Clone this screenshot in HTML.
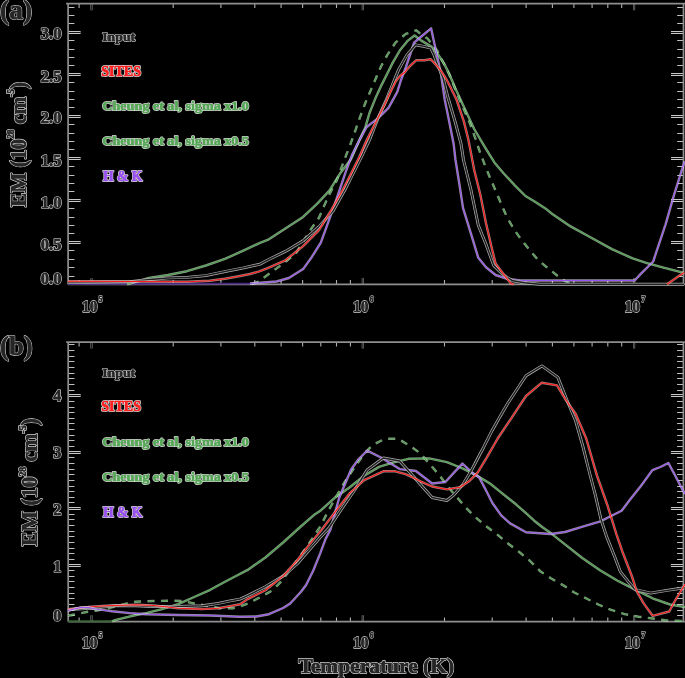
<!DOCTYPE html>
<html><head><meta charset="utf-8"><title>EM plot</title><style>
html,body{margin:0;padding:0;background:#000;width:685px;height:678px;overflow:hidden}
svg{display:block;will-change:transform}
text{font-family:"Liberation Serif",serif;font-weight:bold}
</style></head><body>
<svg width="685" height="678" viewBox="0 0 685 678">
<g><path d="M79.1 3.7v4.3M79.1 284.4v-4.3" stroke="#b0b0b0" stroke-width="1.1"/><path d="M91.5 3.7v6.5M91.5 284.4v-6.5" stroke="#777" stroke-width="2.2"/><path d="M91.5 3.7v6.5M91.5 284.4v-6.5" stroke="#222" stroke-width="1"/><path d="M173.2 3.7v4.3M173.2 284.4v-4.3" stroke="#b0b0b0" stroke-width="1.1"/><path d="M220.9 3.7v4.3M220.9 284.4v-4.3" stroke="#b0b0b0" stroke-width="1.1"/><path d="M254.8 3.7v4.3M254.8 284.4v-4.3" stroke="#b0b0b0" stroke-width="1.1"/><path d="M281.1 3.7v4.3M281.1 284.4v-4.3" stroke="#b0b0b0" stroke-width="1.1"/><path d="M302.6 3.7v4.3M302.6 284.4v-4.3" stroke="#b0b0b0" stroke-width="1.1"/><path d="M320.8 3.7v4.3M320.8 284.4v-4.3" stroke="#b0b0b0" stroke-width="1.1"/><path d="M336.5 3.7v4.3M336.5 284.4v-4.3" stroke="#b0b0b0" stroke-width="1.1"/><path d="M350.4 3.7v4.3M350.4 284.4v-4.3" stroke="#b0b0b0" stroke-width="1.1"/><path d="M362.8 3.7v6.5M362.8 284.4v-6.5" stroke="#777" stroke-width="2.2"/><path d="M362.8 3.7v6.5M362.8 284.4v-6.5" stroke="#222" stroke-width="1"/><path d="M444.5 3.7v4.3M444.5 284.4v-4.3" stroke="#b0b0b0" stroke-width="1.1"/><path d="M492.2 3.7v4.3M492.2 284.4v-4.3" stroke="#b0b0b0" stroke-width="1.1"/><path d="M526.1 3.7v4.3M526.1 284.4v-4.3" stroke="#b0b0b0" stroke-width="1.1"/><path d="M552.4 3.7v4.3M552.4 284.4v-4.3" stroke="#b0b0b0" stroke-width="1.1"/><path d="M573.9 3.7v4.3M573.9 284.4v-4.3" stroke="#b0b0b0" stroke-width="1.1"/><path d="M592.1 3.7v4.3M592.1 284.4v-4.3" stroke="#b0b0b0" stroke-width="1.1"/><path d="M607.8 3.7v4.3M607.8 284.4v-4.3" stroke="#b0b0b0" stroke-width="1.1"/><path d="M621.7 3.7v4.3M621.7 284.4v-4.3" stroke="#b0b0b0" stroke-width="1.1"/><path d="M634.1 3.7v6.5M634.1 284.4v-6.5" stroke="#777" stroke-width="2.2"/><path d="M634.1 3.7v6.5M634.1 284.4v-6.5" stroke="#222" stroke-width="1"/><path d="M68.1 276.5h6.3M683.5 276.5h-6.3" stroke="#c0c0c0" stroke-width="1.2"/><path d="M68.1 267.5h6.3M683.5 267.5h-6.3" stroke="#c0c0c0" stroke-width="1.2"/><path d="M68.1 259.5h6.3M683.5 259.5h-6.3" stroke="#c0c0c0" stroke-width="1.2"/><path d="M68.1 250.5h6.3M683.5 250.5h-6.3" stroke="#c0c0c0" stroke-width="1.2"/><path d="M68.1 242.5h12.5M683.5 242.5h-12.5" stroke="#c8c8c8" stroke-width="3"/><path d="M68.1 242.5h12.5M683.5 242.5h-12.5" stroke="#111" stroke-width="1"/><path d="M68.1 233.5h6.3M683.5 233.5h-6.3" stroke="#c0c0c0" stroke-width="1.2"/><path d="M68.1 225.5h6.3M683.5 225.5h-6.3" stroke="#c0c0c0" stroke-width="1.2"/><path d="M68.1 217.5h6.3M683.5 217.5h-6.3" stroke="#c0c0c0" stroke-width="1.2"/><path d="M68.1 208.5h6.3M683.5 208.5h-6.3" stroke="#c0c0c0" stroke-width="1.2"/><path d="M68.1 200.5h12.5M683.5 200.5h-12.5" stroke="#c8c8c8" stroke-width="3"/><path d="M68.1 200.5h12.5M683.5 200.5h-12.5" stroke="#111" stroke-width="1"/><path d="M68.1 191.5h6.3M683.5 191.5h-6.3" stroke="#c0c0c0" stroke-width="1.2"/><path d="M68.1 183.5h6.3M683.5 183.5h-6.3" stroke="#c0c0c0" stroke-width="1.2"/><path d="M68.1 175.5h6.3M683.5 175.5h-6.3" stroke="#c0c0c0" stroke-width="1.2"/><path d="M68.1 166.5h6.3M683.5 166.5h-6.3" stroke="#c0c0c0" stroke-width="1.2"/><path d="M68.1 158.5h12.5M683.5 158.5h-12.5" stroke="#c8c8c8" stroke-width="3"/><path d="M68.1 158.5h12.5M683.5 158.5h-12.5" stroke="#111" stroke-width="1"/><path d="M68.1 149.5h6.3M683.5 149.5h-6.3" stroke="#c0c0c0" stroke-width="1.2"/><path d="M68.1 141.5h6.3M683.5 141.5h-6.3" stroke="#c0c0c0" stroke-width="1.2"/><path d="M68.1 133.5h6.3M683.5 133.5h-6.3" stroke="#c0c0c0" stroke-width="1.2"/><path d="M68.1 124.5h6.3M683.5 124.5h-6.3" stroke="#c0c0c0" stroke-width="1.2"/><path d="M68.1 116.5h12.5M683.5 116.5h-12.5" stroke="#c8c8c8" stroke-width="3"/><path d="M68.1 116.5h12.5M683.5 116.5h-12.5" stroke="#111" stroke-width="1"/><path d="M68.1 107.5h6.3M683.5 107.5h-6.3" stroke="#c0c0c0" stroke-width="1.2"/><path d="M68.1 99.5h6.3M683.5 99.5h-6.3" stroke="#c0c0c0" stroke-width="1.2"/><path d="M68.1 91.5h6.3M683.5 91.5h-6.3" stroke="#c0c0c0" stroke-width="1.2"/><path d="M68.1 82.5h6.3M683.5 82.5h-6.3" stroke="#c0c0c0" stroke-width="1.2"/><path d="M68.1 74.5h12.5M683.5 74.5h-12.5" stroke="#c8c8c8" stroke-width="3"/><path d="M68.1 74.5h12.5M683.5 74.5h-12.5" stroke="#111" stroke-width="1"/><path d="M68.1 65.5h6.3M683.5 65.5h-6.3" stroke="#c0c0c0" stroke-width="1.2"/><path d="M68.1 57.5h6.3M683.5 57.5h-6.3" stroke="#c0c0c0" stroke-width="1.2"/><path d="M68.1 49.5h6.3M683.5 49.5h-6.3" stroke="#c0c0c0" stroke-width="1.2"/><path d="M68.1 40.5h6.3M683.5 40.5h-6.3" stroke="#c0c0c0" stroke-width="1.2"/><path d="M68.1 32.5h12.5M683.5 32.5h-12.5" stroke="#c8c8c8" stroke-width="3"/><path d="M68.1 32.5h12.5M683.5 32.5h-12.5" stroke="#111" stroke-width="1"/><path d="M68.1 23.5h6.3M683.5 23.5h-6.3" stroke="#c0c0c0" stroke-width="1.2"/><path d="M68.1 15.5h6.3M683.5 15.5h-6.3" stroke="#c0c0c0" stroke-width="1.2"/><path d="M68.1 7.5h6.3M683.5 7.5h-6.3" stroke="#c0c0c0" stroke-width="1.2"/><path d="M66.1 3.7H685.0M68.1 3.7V284.4M683.5 3.7V284.4M68.1 284.4H685.0" fill="none" stroke="#8e8e8e" stroke-width="1.7"/><path d="M79.1 342.1v4.3M79.1 621.7v-4.3" stroke="#b0b0b0" stroke-width="1.1"/><path d="M91.5 342.1v6.5M91.5 621.7v-6.5" stroke="#777" stroke-width="2.2"/><path d="M91.5 342.1v6.5M91.5 621.7v-6.5" stroke="#222" stroke-width="1"/><path d="M173.2 342.1v4.3M173.2 621.7v-4.3" stroke="#b0b0b0" stroke-width="1.1"/><path d="M220.9 342.1v4.3M220.9 621.7v-4.3" stroke="#b0b0b0" stroke-width="1.1"/><path d="M254.8 342.1v4.3M254.8 621.7v-4.3" stroke="#b0b0b0" stroke-width="1.1"/><path d="M281.1 342.1v4.3M281.1 621.7v-4.3" stroke="#b0b0b0" stroke-width="1.1"/><path d="M302.6 342.1v4.3M302.6 621.7v-4.3" stroke="#b0b0b0" stroke-width="1.1"/><path d="M320.8 342.1v4.3M320.8 621.7v-4.3" stroke="#b0b0b0" stroke-width="1.1"/><path d="M336.5 342.1v4.3M336.5 621.7v-4.3" stroke="#b0b0b0" stroke-width="1.1"/><path d="M350.4 342.1v4.3M350.4 621.7v-4.3" stroke="#b0b0b0" stroke-width="1.1"/><path d="M362.8 342.1v6.5M362.8 621.7v-6.5" stroke="#777" stroke-width="2.2"/><path d="M362.8 342.1v6.5M362.8 621.7v-6.5" stroke="#222" stroke-width="1"/><path d="M444.5 342.1v4.3M444.5 621.7v-4.3" stroke="#b0b0b0" stroke-width="1.1"/><path d="M492.2 342.1v4.3M492.2 621.7v-4.3" stroke="#b0b0b0" stroke-width="1.1"/><path d="M526.1 342.1v4.3M526.1 621.7v-4.3" stroke="#b0b0b0" stroke-width="1.1"/><path d="M552.4 342.1v4.3M552.4 621.7v-4.3" stroke="#b0b0b0" stroke-width="1.1"/><path d="M573.9 342.1v4.3M573.9 621.7v-4.3" stroke="#b0b0b0" stroke-width="1.1"/><path d="M592.1 342.1v4.3M592.1 621.7v-4.3" stroke="#b0b0b0" stroke-width="1.1"/><path d="M607.8 342.1v4.3M607.8 621.7v-4.3" stroke="#b0b0b0" stroke-width="1.1"/><path d="M621.7 342.1v4.3M621.7 621.7v-4.3" stroke="#b0b0b0" stroke-width="1.1"/><path d="M634.1 342.1v6.5M634.1 621.7v-6.5" stroke="#777" stroke-width="2.2"/><path d="M634.1 342.1v6.5M634.1 621.7v-6.5" stroke="#222" stroke-width="1"/><path d="M68.2 615.5h6.3M683.4 615.5h-6.3" stroke="#c0c0c0" stroke-width="1.2"/><path d="M68.2 610.5h6.3M683.4 610.5h-6.3" stroke="#c0c0c0" stroke-width="1.2"/><path d="M68.2 604.5h6.3M683.4 604.5h-6.3" stroke="#c0c0c0" stroke-width="1.2"/><path d="M68.2 598.5h6.3M683.4 598.5h-6.3" stroke="#c0c0c0" stroke-width="1.2"/><path d="M68.2 593.5h6.3M683.4 593.5h-6.3" stroke="#c0c0c0" stroke-width="1.2"/><path d="M68.2 587.5h6.3M683.4 587.5h-6.3" stroke="#c0c0c0" stroke-width="1.2"/><path d="M68.2 581.5h6.3M683.4 581.5h-6.3" stroke="#c0c0c0" stroke-width="1.2"/><path d="M68.2 576.5h6.3M683.4 576.5h-6.3" stroke="#c0c0c0" stroke-width="1.2"/><path d="M68.2 570.5h6.3M683.4 570.5h-6.3" stroke="#c0c0c0" stroke-width="1.2"/><path d="M68.2 565.5h12.5M683.4 565.5h-12.5" stroke="#c8c8c8" stroke-width="3"/><path d="M68.2 565.5h12.5M683.4 565.5h-12.5" stroke="#111" stroke-width="1"/><path d="M68.2 559.5h6.3M683.4 559.5h-6.3" stroke="#c0c0c0" stroke-width="1.2"/><path d="M68.2 553.5h6.3M683.4 553.5h-6.3" stroke="#c0c0c0" stroke-width="1.2"/><path d="M68.2 548.5h6.3M683.4 548.5h-6.3" stroke="#c0c0c0" stroke-width="1.2"/><path d="M68.2 542.5h6.3M683.4 542.5h-6.3" stroke="#c0c0c0" stroke-width="1.2"/><path d="M68.2 536.5h6.3M683.4 536.5h-6.3" stroke="#c0c0c0" stroke-width="1.2"/><path d="M68.2 531.5h6.3M683.4 531.5h-6.3" stroke="#c0c0c0" stroke-width="1.2"/><path d="M68.2 525.5h6.3M683.4 525.5h-6.3" stroke="#c0c0c0" stroke-width="1.2"/><path d="M68.2 519.5h6.3M683.4 519.5h-6.3" stroke="#c0c0c0" stroke-width="1.2"/><path d="M68.2 514.5h6.3M683.4 514.5h-6.3" stroke="#c0c0c0" stroke-width="1.2"/><path d="M68.2 508.5h12.5M683.4 508.5h-12.5" stroke="#c8c8c8" stroke-width="3"/><path d="M68.2 508.5h12.5M683.4 508.5h-12.5" stroke="#111" stroke-width="1"/><path d="M68.2 502.5h6.3M683.4 502.5h-6.3" stroke="#c0c0c0" stroke-width="1.2"/><path d="M68.2 497.5h6.3M683.4 497.5h-6.3" stroke="#c0c0c0" stroke-width="1.2"/><path d="M68.2 491.5h6.3M683.4 491.5h-6.3" stroke="#c0c0c0" stroke-width="1.2"/><path d="M68.2 486.5h6.3M683.4 486.5h-6.3" stroke="#c0c0c0" stroke-width="1.2"/><path d="M68.2 480.5h6.3M683.4 480.5h-6.3" stroke="#c0c0c0" stroke-width="1.2"/><path d="M68.2 474.5h6.3M683.4 474.5h-6.3" stroke="#c0c0c0" stroke-width="1.2"/><path d="M68.2 469.5h6.3M683.4 469.5h-6.3" stroke="#c0c0c0" stroke-width="1.2"/><path d="M68.2 463.5h6.3M683.4 463.5h-6.3" stroke="#c0c0c0" stroke-width="1.2"/><path d="M68.2 457.5h6.3M683.4 457.5h-6.3" stroke="#c0c0c0" stroke-width="1.2"/><path d="M68.2 452.5h12.5M683.4 452.5h-12.5" stroke="#c8c8c8" stroke-width="3"/><path d="M68.2 452.5h12.5M683.4 452.5h-12.5" stroke="#111" stroke-width="1"/><path d="M68.2 446.5h6.3M683.4 446.5h-6.3" stroke="#c0c0c0" stroke-width="1.2"/><path d="M68.2 440.5h6.3M683.4 440.5h-6.3" stroke="#c0c0c0" stroke-width="1.2"/><path d="M68.2 435.5h6.3M683.4 435.5h-6.3" stroke="#c0c0c0" stroke-width="1.2"/><path d="M68.2 429.5h6.3M683.4 429.5h-6.3" stroke="#c0c0c0" stroke-width="1.2"/><path d="M68.2 423.5h6.3M683.4 423.5h-6.3" stroke="#c0c0c0" stroke-width="1.2"/><path d="M68.2 418.5h6.3M683.4 418.5h-6.3" stroke="#c0c0c0" stroke-width="1.2"/><path d="M68.2 412.5h6.3M683.4 412.5h-6.3" stroke="#c0c0c0" stroke-width="1.2"/><path d="M68.2 407.5h6.3M683.4 407.5h-6.3" stroke="#c0c0c0" stroke-width="1.2"/><path d="M68.2 401.5h6.3M683.4 401.5h-6.3" stroke="#c0c0c0" stroke-width="1.2"/><path d="M68.2 395.5h12.5M683.4 395.5h-12.5" stroke="#c8c8c8" stroke-width="3"/><path d="M68.2 395.5h12.5M683.4 395.5h-12.5" stroke="#111" stroke-width="1"/><path d="M68.2 390.5h6.3M683.4 390.5h-6.3" stroke="#c0c0c0" stroke-width="1.2"/><path d="M68.2 384.5h6.3M683.4 384.5h-6.3" stroke="#c0c0c0" stroke-width="1.2"/><path d="M68.2 378.5h6.3M683.4 378.5h-6.3" stroke="#c0c0c0" stroke-width="1.2"/><path d="M68.2 373.5h6.3M683.4 373.5h-6.3" stroke="#c0c0c0" stroke-width="1.2"/><path d="M68.2 367.5h6.3M683.4 367.5h-6.3" stroke="#c0c0c0" stroke-width="1.2"/><path d="M68.2 361.5h6.3M683.4 361.5h-6.3" stroke="#c0c0c0" stroke-width="1.2"/><path d="M68.2 356.5h6.3M683.4 356.5h-6.3" stroke="#c0c0c0" stroke-width="1.2"/><path d="M68.2 350.5h6.3M683.4 350.5h-6.3" stroke="#c0c0c0" stroke-width="1.2"/><path d="M68.2 344.5h6.3M683.4 344.5h-6.3" stroke="#c0c0c0" stroke-width="1.2"/><path d="M66.2 342.1H684.9M68.2 342.1V621.7M683.4 342.1V621.7M68.2 621.7H684.9" fill="none" stroke="#8e8e8e" stroke-width="1.7"/></g>
<g><polyline points="68.0,284.0 250.0,283.6" fill="none" stroke="#4a2a80" stroke-width="1.8"/><polyline points="68.0,621.3 113.0,621.3" fill="none" stroke="#3a6a3a" stroke-width="1.8"/><polyline points="127.0,284.3 130.0,283.6 149.0,277.9 168.0,275.0 186.9,271.2 205.9,265.5 224.9,258.9 243.9,250.4 260.0,242.8 267.7,239.9 285.4,228.4 303.1,216.9 317.3,203.6 329.6,190.4 340.6,172.7 351.0,159.2 359.2,140.6 365.4,127.2 369.5,113.0 375.3,98.6 381.5,85.1 386.7,74.8 392.9,62.4 400.1,50.0 407.9,40.6 414.6,35.5 421.3,40.6 431.6,46.8 437.8,54.1 444.0,63.4 449.2,73.7 455.1,87.7 463.9,106.9 474.2,129.0 484.6,146.7 490.0,155.3 494.4,162.4 503.3,173.0 514.8,185.4 525.4,196.0 534.2,201.3 546.6,209.3 551.2,213.2 570.6,226.4 591.3,237.7 611.9,249.1 632.6,258.4 647.0,263.1 663.5,267.7 684.0,272.8" fill="none" stroke="rgba(225,250,225,0.62)" stroke-width="2.40" stroke-linejoin="round"/><polyline points="127.0,284.3 130.0,283.6 149.0,277.9 168.0,275.0 186.9,271.2 205.9,265.5 224.9,258.9 243.9,250.4 260.0,242.8 267.7,239.9 285.4,228.4 303.1,216.9 317.3,203.6 329.6,190.4 340.6,172.7 351.0,159.2 359.2,140.6 365.4,127.2 369.5,113.0 375.3,98.6 381.5,85.1 386.7,74.8 392.9,62.4 400.1,50.0 407.9,40.6 414.6,35.5 421.3,40.6 431.6,46.8 437.8,54.1 444.0,63.4 449.2,73.7 455.1,87.7 463.9,106.9 474.2,129.0 484.6,146.7 490.0,155.3 494.4,162.4 503.3,173.0 514.8,185.4 525.4,196.0 534.2,201.3 546.6,209.3 551.2,213.2 570.6,226.4 591.3,237.7 611.9,249.1 632.6,258.4 647.0,263.1 663.5,267.7 684.0,272.8" fill="none" stroke="#4aa04a" stroke-width="1.05" stroke-linejoin="round"/><polyline points="252.0,284.0 258.8,281.5 273.0,270.9 285.4,262.0 296.0,253.2 310.2,230.2 319.0,217.8 324.3,205.4 329.6,193.9 336.7,180.6 340.8,169.5 345.8,156.1 351.0,142.7 356.1,128.3 360.2,116.6 365.5,102.5 370.8,90.1 376.1,77.7 381.0,66.5 387.2,55.1 395.5,42.7 405.8,33.9 416.1,30.3 421.3,34.5 427.5,38.6 437.3,50.7 442.0,60.3 449.2,74.4 459.5,99.5 469.8,123.1 475.7,139.3 480.1,152.6 484.6,164.4 489.8,177.3 495.6,190.7 501.3,204.1 507.1,217.5 513.8,229.0 520.5,238.6 528.2,248.2 537.8,259.7 549.3,269.3 558.8,276.9 566.0,281.5 572.0,284.3" fill="none" stroke="rgba(225,250,225,0.62)" stroke-width="2.40" stroke-linejoin="round" stroke-dasharray="7 6.5"/><polyline points="252.0,284.0 258.8,281.5 273.0,270.9 285.4,262.0 296.0,253.2 310.2,230.2 319.0,217.8 324.3,205.4 329.6,193.9 336.7,180.6 340.8,169.5 345.8,156.1 351.0,142.7 356.1,128.3 360.2,116.6 365.5,102.5 370.8,90.1 376.1,77.7 381.0,66.5 387.2,55.1 395.5,42.7 405.8,33.9 416.1,30.3 421.3,34.5 427.5,38.6 437.3,50.7 442.0,60.3 449.2,74.4 459.5,99.5 469.8,123.1 475.7,139.3 480.1,152.6 484.6,164.4 489.8,177.3 495.6,190.7 501.3,204.1 507.1,217.5 513.8,229.0 520.5,238.6 528.2,248.2 537.8,259.7 549.3,269.3 558.8,276.9 566.0,281.5 572.0,284.3" fill="none" stroke="#4aa04a" stroke-width="1.05" stroke-linejoin="round" stroke-dasharray="7 6.5"/><polyline points="250.0,283.5 276.5,281.5 288.9,278.0 303.1,269.1 312.0,256.7 320.8,242.6 327.9,223.1 335.0,203.6 339.6,190.0 345.8,171.6 352.0,155.1 359.2,140.6 366.5,127.2 371.6,123.1 377.9,118.4 388.5,107.8 397.3,91.9 401.0,80.0 405.8,67.5 414.1,42.7 421.3,36.5 431.1,28.3 433.7,40.6 437.8,59.2 440.9,73.7 444.7,99.5 449.2,121.6 453.6,143.7 455.5,160.0 459.2,183.0 463.0,207.9 470.7,232.8 478.3,257.8 486.0,267.3 495.6,275.0 507.1,278.8 520.5,280.5 634.6,280.5 640.8,273.9 653.2,261.5 657.3,249.1 665.6,224.3 673.9,195.4 684.5,161.5" fill="none" stroke="rgba(240,230,255,0.62)" stroke-width="2.40" stroke-linejoin="round"/><polyline points="250.0,283.5 276.5,281.5 288.9,278.0 303.1,269.1 312.0,256.7 320.8,242.6 327.9,223.1 335.0,203.6 339.6,190.0 345.8,171.6 352.0,155.1 359.2,140.6 366.5,127.2 371.6,123.1 377.9,118.4 388.5,107.8 397.3,91.9 401.0,80.0 405.8,67.5 414.1,42.7 421.3,36.5 431.1,28.3 433.7,40.6 437.8,59.2 440.9,73.7 444.7,99.5 449.2,121.6 453.6,143.7 455.5,160.0 459.2,183.0 463.0,207.9 470.7,232.8 478.3,257.8 486.0,267.3 495.6,275.0 507.1,278.8 520.5,280.5 634.6,280.5 640.8,273.9 653.2,261.5 657.3,249.1 665.6,224.3 673.9,195.4 684.5,161.5" fill="none" stroke="#9a55f0" stroke-width="1.05" stroke-linejoin="round"/><polyline points="68.0,282.5 130.0,281.7 150.0,279.5 168.0,277.9 186.9,277.4 205.9,275.6 224.9,271.6 243.9,267.8 260.0,264.2 267.7,260.0 285.4,251.4 303.1,240.8 319.0,226.6 333.2,210.7 344.8,190.0 353.0,173.7 361.3,157.2 369.6,139.6 377.9,118.4 386.7,98.9 390.3,90.0 398.6,69.6 406.8,55.1 415.6,44.8 423.4,46.3 430.6,47.9 433.7,54.1 437.8,65.4 443.0,77.8 447.7,96.5 455.1,121.6 461.0,143.7 463.5,160.0 470.7,188.8 478.3,225.2 486.0,244.3 493.7,265.4 503.3,275.0 512.8,280.8 524.3,282.7 540.0,284.3 684.0,284.3" fill="none" stroke="#b0b0b0" stroke-width="2.90" stroke-linejoin="round"/><polyline points="68.0,282.5 130.0,281.7 150.0,279.5 168.0,277.9 186.9,277.4 205.9,275.6 224.9,271.6 243.9,267.8 260.0,264.2 267.7,260.0 285.4,251.4 303.1,240.8 319.0,226.6 333.2,210.7 344.8,190.0 353.0,173.7 361.3,157.2 369.6,139.6 377.9,118.4 386.7,98.9 390.3,90.0 398.6,69.6 406.8,55.1 415.6,44.8 423.4,46.3 430.6,47.9 433.7,54.1 437.8,65.4 443.0,77.8 447.7,96.5 455.1,121.6 461.0,143.7 463.5,160.0 470.7,188.8 478.3,225.2 486.0,244.3 493.7,265.4 503.3,275.0 512.8,280.8 524.3,282.7 540.0,284.3 684.0,284.3" fill="none" stroke="#1e1e1e" stroke-width="1.5" stroke-linejoin="round"/><polyline points="68.0,281.3 130.0,281.5 186.9,281.7 209.7,280.7 224.9,278.8 240.1,276.0 250.0,274.0 260.0,271.2 267.7,268.2 285.4,260.3 303.1,246.1 319.0,230.2 331.4,209.8 342.7,190.0 351.0,173.7 359.2,157.2 366.5,140.6 372.7,128.3 378.4,117.0 384.6,104.8 390.8,91.3 396.0,81.0 400.1,75.8 404.8,72.2 410.0,66.0 416.1,60.3 424.4,60.3 430.6,59.2 434.7,63.4 440.9,70.6 446.1,78.8 449.2,84.7 456.5,99.5 463.9,121.6 468.3,139.3 474.2,170.0 480.3,194.5 486.0,223.3 491.8,248.2 495.6,263.5 501.3,271.2 507.1,278.8 510.9,283.6 514.0,284.3" fill="none" stroke="rgba(255,215,215,0.62)" stroke-width="2.40" stroke-linejoin="round"/><polyline points="68.0,281.3 130.0,281.5 186.9,281.7 209.7,280.7 224.9,278.8 240.1,276.0 250.0,274.0 260.0,271.2 267.7,268.2 285.4,260.3 303.1,246.1 319.0,230.2 331.4,209.8 342.7,190.0 351.0,173.7 359.2,157.2 366.5,140.6 372.7,128.3 378.4,117.0 384.6,104.8 390.8,91.3 396.0,81.0 400.1,75.8 404.8,72.2 410.0,66.0 416.1,60.3 424.4,60.3 430.6,59.2 434.7,63.4 440.9,70.6 446.1,78.8 449.2,84.7 456.5,99.5 463.9,121.6 468.3,139.3 474.2,170.0 480.3,194.5 486.0,223.3 491.8,248.2 495.6,263.5 501.3,271.2 507.1,278.8 510.9,283.6 514.0,284.3" fill="none" stroke="#ff1818" stroke-width="1.1" stroke-linejoin="round"/><polyline points="112.0,621.3 115.0,620.1 127.3,617.1 136.0,615.0 146.1,613.1 162.1,609.1 178.2,604.2 194.2,597.0 210.3,589.8 226.4,581.0 236.0,576.0 247.7,569.9 265.4,557.5 283.1,542.5 300.8,526.5 315.0,514.2 320.0,511.1 334.7,497.8 349.5,487.5 364.2,475.7 379.0,466.9 393.7,462.4 408.5,458.8 429.2,458.4 446.9,462.1 461.6,468.0 476.4,475.4 490.0,483.5 498.8,490.6 507.7,497.7 516.5,504.8 525.4,512.7 534.2,520.7 543.1,527.8 550.8,533.1 565.0,544.4 582.6,558.3 600.0,570.3 617.6,580.8 635.1,589.6 652.6,598.3 670.1,604.5 685.0,607.1" fill="none" stroke="rgba(225,250,225,0.62)" stroke-width="2.40" stroke-linejoin="round"/><polyline points="112.0,621.3 115.0,620.1 127.3,617.1 136.0,615.0 146.1,613.1 162.1,609.1 178.2,604.2 194.2,597.0 210.3,589.8 226.4,581.0 236.0,576.0 247.7,569.9 265.4,557.5 283.1,542.5 300.8,526.5 315.0,514.2 320.0,511.1 334.7,497.8 349.5,487.5 364.2,475.7 379.0,466.9 393.7,462.4 408.5,458.8 429.2,458.4 446.9,462.1 461.6,468.0 476.4,475.4 490.0,483.5 498.8,490.6 507.7,497.7 516.5,504.8 525.4,512.7 534.2,520.7 543.1,527.8 550.8,533.1 565.0,544.4 582.6,558.3 600.0,570.3 617.6,580.8 635.1,589.6 652.6,598.3 670.1,604.5 685.0,607.1" fill="none" stroke="#4aa04a" stroke-width="1.05" stroke-linejoin="round"/><polyline points="68.0,615.5 71.0,615.2 80.9,613.3 86.4,612.0 96.7,610.5 108.9,608.2 125.3,603.8 134.8,601.8 154.1,601.0 170.1,600.7 183.0,601.0 194.2,603.4 207.1,605.8 219.9,608.3 232.8,608.3 240.0,606.6 249.5,602.7 260.1,597.3 272.5,590.3 281.3,581.4 295.0,563.0 306.1,547.8 313.2,537.2 320.3,526.5 327.4,512.6 334.7,499.3 342.1,486.0 353.9,468.3 364.2,453.6 373.1,444.7 384.9,438.8 398.2,438.8 410.0,446.0 420.3,453.3 430.6,465.1 439.5,475.4 448.3,487.2 457.2,497.5 466.0,507.8 474.9,516.7 485.2,525.5 497.7,534.9 508.3,543.7 518.9,551.7 529.6,560.5 540.2,571.2 550.8,578.2 563.2,585.3 573.8,592.2 586.0,598.3 598.3,604.5 610.5,609.7 624.6,614.1 638.6,616.7 652.6,618.5 664.9,620.2 685.0,621.0" fill="none" stroke="rgba(225,250,225,0.62)" stroke-width="2.40" stroke-linejoin="round" stroke-dasharray="7 6.5"/><polyline points="68.0,615.5 71.0,615.2 80.9,613.3 86.4,612.0 96.7,610.5 108.9,608.2 125.3,603.8 134.8,601.8 154.1,601.0 170.1,600.7 183.0,601.0 194.2,603.4 207.1,605.8 219.9,608.3 232.8,608.3 240.0,606.6 249.5,602.7 260.1,597.3 272.5,590.3 281.3,581.4 295.0,563.0 306.1,547.8 313.2,537.2 320.3,526.5 327.4,512.6 334.7,499.3 342.1,486.0 353.9,468.3 364.2,453.6 373.1,444.7 384.9,438.8 398.2,438.8 410.0,446.0 420.3,453.3 430.6,465.1 439.5,475.4 448.3,487.2 457.2,497.5 466.0,507.8 474.9,516.7 485.2,525.5 497.7,534.9 508.3,543.7 518.9,551.7 529.6,560.5 540.2,571.2 550.8,578.2 563.2,585.3 573.8,592.2 586.0,598.3 598.3,604.5 610.5,609.7 624.6,614.1 638.6,616.7 652.6,618.5 664.9,620.2 685.0,621.0" fill="none" stroke="#4aa04a" stroke-width="1.05" stroke-linejoin="round" stroke-dasharray="7 6.5"/><polyline points="68.0,610.5 80.6,607.6 89.0,607.5 96.7,609.3 106.0,610.4 112.0,611.3 130.0,613.1 146.1,614.2 178.2,615.0 210.3,615.5 240.0,616.8 256.5,616.5 268.9,614.2 283.1,608.0 290.2,603.5 300.8,592.0 306.1,585.0 313.2,570.8 320.3,553.1 325.6,538.9 330.3,530.0 339.2,497.8 351.0,469.8 358.3,459.5 367.2,450.6 381.9,458.0 399.6,469.1 410.0,470.2 415.9,471.0 432.1,483.5 445.4,482.0 454.2,472.4 462.4,463.6 471.9,472.4 479.3,477.6 485.2,488.7 492.4,503.0 501.2,515.4 510.1,523.4 526.0,532.2 550.8,534.0 565.0,532.0 582.7,526.7 600.4,521.4 621.6,510.8 630.3,499.3 640.9,486.0 652.4,470.1 660.4,467.0 668.4,463.0 674.6,474.5 682.5,489.6 685.0,494.0" fill="none" stroke="rgba(240,230,255,0.62)" stroke-width="2.40" stroke-linejoin="round"/><polyline points="68.0,610.5 80.6,607.6 89.0,607.5 96.7,609.3 106.0,610.4 112.0,611.3 130.0,613.1 146.1,614.2 178.2,615.0 210.3,615.5 240.0,616.8 256.5,616.5 268.9,614.2 283.1,608.0 290.2,603.5 300.8,592.0 306.1,585.0 313.2,570.8 320.3,553.1 325.6,538.9 330.3,530.0 339.2,497.8 351.0,469.8 358.3,459.5 367.2,450.6 381.9,458.0 399.6,469.1 410.0,470.2 415.9,471.0 432.1,483.5 445.4,482.0 454.2,472.4 462.4,463.6 471.9,472.4 479.3,477.6 485.2,488.7 492.4,503.0 501.2,515.4 510.1,523.4 526.0,532.2 550.8,534.0 565.0,532.0 582.7,526.7 600.4,521.4 621.6,510.8 630.3,499.3 640.9,486.0 652.4,470.1 660.4,467.0 668.4,463.0 674.6,474.5 682.5,489.6 685.0,494.0" fill="none" stroke="#9a55f0" stroke-width="1.05" stroke-linejoin="round"/><polyline points="68.0,609.6 90.0,608.3 115.6,605.8 130.0,605.5 152.9,606.5 178.2,606.5 202.3,605.8 218.3,603.4 230.0,600.9 240.0,599.1 247.7,595.6 265.4,586.7 283.1,576.1 297.3,563.7 309.6,549.6 320.3,537.2 329.0,528.0 342.1,508.2 355.4,489.0 367.2,469.8 383.4,458.0 399.6,461.0 410.0,472.4 420.3,484.2 432.1,497.5 446.9,500.5 454.2,494.6 463.1,484.2 471.9,469.5 479.5,455.0 483.7,447.2 492.0,430.7 501.4,414.2 507.7,403.5 526.0,375.7 541.9,365.9 557.9,377.4 566.7,399.6 575.6,420.8 582.7,445.6 588.8,470.0 595.3,494.9 601.1,519.8 606.8,537.1 614.5,556.3 620.3,571.6 627.9,581.2 635.1,589.6 650.8,593.1 666.6,590.4 685.0,587.8" fill="none" stroke="#b0b0b0" stroke-width="2.90" stroke-linejoin="round"/><polyline points="68.0,609.6 90.0,608.3 115.6,605.8 130.0,605.5 152.9,606.5 178.2,606.5 202.3,605.8 218.3,603.4 230.0,600.9 240.0,599.1 247.7,595.6 265.4,586.7 283.1,576.1 297.3,563.7 309.6,549.6 320.3,537.2 329.0,528.0 342.1,508.2 355.4,489.0 367.2,469.8 383.4,458.0 399.6,461.0 410.0,472.4 420.3,484.2 432.1,497.5 446.9,500.5 454.2,494.6 463.1,484.2 471.9,469.5 479.5,455.0 483.7,447.2 492.0,430.7 501.4,414.2 507.7,403.5 526.0,375.7 541.9,365.9 557.9,377.4 566.7,399.6 575.6,420.8 582.7,445.6 588.8,470.0 595.3,494.9 601.1,519.8 606.8,537.1 614.5,556.3 620.3,571.6 627.9,581.2 635.1,589.6 650.8,593.1 666.6,590.4 685.0,587.8" fill="none" stroke="#1e1e1e" stroke-width="1.5" stroke-linejoin="round"/><polyline points="68.0,609.3 80.0,608.0 91.1,606.8 106.9,605.7 136.0,604.8 154.1,605.5 178.2,608.3 202.3,609.1 218.3,608.3 230.0,606.2 240.0,604.2 247.7,599.1 265.4,590.3 283.1,576.1 297.3,560.2 309.6,544.2 321.5,530.0 334.7,512.6 349.5,493.4 364.2,480.1 383.4,471.3 395.2,471.3 405.5,474.2 410.0,476.1 420.3,481.3 432.1,486.5 446.9,489.4 460.1,487.2 469.0,481.3 477.8,472.4 486.7,457.7 497.7,438.5 511.9,417.3 526.0,396.0 541.9,382.7 557.0,385.4 566.7,401.3 575.6,413.7 586.2,438.5 596.9,475.4 607.5,505.5 616.3,533.8 622.8,552.8 631.6,575.5 636.8,591.3 643.8,603.6 652.6,615.8 669.2,611.5 675.4,600.1 685.0,584.3" fill="none" stroke="rgba(255,215,215,0.62)" stroke-width="2.40" stroke-linejoin="round"/><polyline points="68.0,609.3 80.0,608.0 91.1,606.8 106.9,605.7 136.0,604.8 154.1,605.5 178.2,608.3 202.3,609.1 218.3,608.3 230.0,606.2 240.0,604.2 247.7,599.1 265.4,590.3 283.1,576.1 297.3,560.2 309.6,544.2 321.5,530.0 334.7,512.6 349.5,493.4 364.2,480.1 383.4,471.3 395.2,471.3 405.5,474.2 410.0,476.1 420.3,481.3 432.1,486.5 446.9,489.4 460.1,487.2 469.0,481.3 477.8,472.4 486.7,457.7 497.7,438.5 511.9,417.3 526.0,396.0 541.9,382.7 557.0,385.4 566.7,401.3 575.6,413.7 586.2,438.5 596.9,475.4 607.5,505.5 616.3,533.8 622.8,552.8 631.6,575.5 636.8,591.3 643.8,603.6 652.6,615.8 669.2,611.5 675.4,600.1 685.0,584.3" fill="none" stroke="#ff1818" stroke-width="1.1" stroke-linejoin="round"/><polyline points="667.0,284.3 684.0,272.5" fill="none" stroke="rgba(255,215,215,0.62)" stroke-width="2.40" stroke-linejoin="round"/><polyline points="667.0,284.3 684.0,272.5" fill="none" stroke="#ff1818" stroke-width="1.1" stroke-linejoin="round"/><polyline points="68.0,610.5 80.6,607.6 89.0,607.5 96.7,609.3" fill="none" stroke="rgba(240,230,255,0.62)" stroke-width="2.40" stroke-linejoin="round"/><polyline points="68.0,610.5 80.6,607.6 89.0,607.5 96.7,609.3" fill="none" stroke="#9a55f0" stroke-width="1.05" stroke-linejoin="round"/></g>
<g><text transform="translate(0.00,19.18) scale(0.917,0.931)" font-size="30" fill="#262626" stroke="#d0d0d0" stroke-width="1.80" paint-order="stroke" stroke-linejoin="round">(a)</text><text transform="translate(0.00,19.18) scale(0.917,0.931)" font-size="30" fill="#262626" stroke="#262626" stroke-width="0.40" paint-order="stroke" stroke-linejoin="round">(a)</text>
<text transform="translate(0.00,355.48) scale(0.892,0.931)" font-size="30" fill="#262626" stroke="#d0d0d0" stroke-width="1.80" paint-order="stroke" stroke-linejoin="round">(b)</text><text transform="translate(0.00,355.48) scale(0.892,0.931)" font-size="30" fill="#262626" stroke="#262626" stroke-width="0.40" paint-order="stroke" stroke-linejoin="round">(b)</text>
<text transform="translate(40.80,39.08) scale(1.000,0.950)" font-size="16.5" fill="#262626" stroke="#d0d0d0" stroke-width="1.80" paint-order="stroke" stroke-linejoin="round">3.0</text><text transform="translate(40.80,39.08) scale(1.000,0.950)" font-size="16.5" fill="#262626" stroke="#262626" stroke-width="0.40" paint-order="stroke" stroke-linejoin="round">3.0</text>
<text transform="translate(40.80,82.12) scale(1.000,0.950)" font-size="16.5" fill="#262626" stroke="#d0d0d0" stroke-width="1.80" paint-order="stroke" stroke-linejoin="round">2.5</text><text transform="translate(40.80,82.12) scale(1.000,0.950)" font-size="16.5" fill="#262626" stroke="#262626" stroke-width="0.40" paint-order="stroke" stroke-linejoin="round">2.5</text>
<text transform="translate(40.80,123.22) scale(1.000,0.950)" font-size="16.5" fill="#262626" stroke="#d0d0d0" stroke-width="1.80" paint-order="stroke" stroke-linejoin="round">2.0</text><text transform="translate(40.80,123.22) scale(1.000,0.950)" font-size="16.5" fill="#262626" stroke="#262626" stroke-width="0.40" paint-order="stroke" stroke-linejoin="round">2.0</text>
<text transform="translate(40.80,166.22) scale(1.000,0.950)" font-size="16.5" fill="#262626" stroke="#d0d0d0" stroke-width="1.80" paint-order="stroke" stroke-linejoin="round">1.5</text><text transform="translate(40.80,166.22) scale(1.000,0.950)" font-size="16.5" fill="#262626" stroke="#262626" stroke-width="0.40" paint-order="stroke" stroke-linejoin="round">1.5</text>
<text transform="translate(40.80,208.03) scale(1.000,0.950)" font-size="16.5" fill="#262626" stroke="#d0d0d0" stroke-width="1.80" paint-order="stroke" stroke-linejoin="round">1.0</text><text transform="translate(40.80,208.03) scale(1.000,0.950)" font-size="16.5" fill="#262626" stroke="#262626" stroke-width="0.40" paint-order="stroke" stroke-linejoin="round">1.0</text>
<text transform="translate(40.80,250.03) scale(1.000,0.950)" font-size="16.5" fill="#262626" stroke="#d0d0d0" stroke-width="1.80" paint-order="stroke" stroke-linejoin="round">0.5</text><text transform="translate(40.80,250.03) scale(1.000,0.950)" font-size="16.5" fill="#262626" stroke="#262626" stroke-width="0.40" paint-order="stroke" stroke-linejoin="round">0.5</text>
<text transform="translate(40.80,284.48) scale(1.000,0.950)" font-size="16.5" fill="#262626" stroke="#d0d0d0" stroke-width="1.80" paint-order="stroke" stroke-linejoin="round">0.0</text><text transform="translate(40.80,284.48) scale(1.000,0.950)" font-size="16.5" fill="#262626" stroke="#262626" stroke-width="0.40" paint-order="stroke" stroke-linejoin="round">0.0</text>
<text transform="translate(53.28,401.43) scale(0.980,0.950)" font-size="16.5" fill="#262626" stroke="#d0d0d0" stroke-width="1.80" paint-order="stroke" stroke-linejoin="round">4</text><text transform="translate(53.28,401.43) scale(0.980,0.950)" font-size="16.5" fill="#262626" stroke="#262626" stroke-width="0.40" paint-order="stroke" stroke-linejoin="round">4</text>
<text transform="translate(53.28,458.03) scale(0.980,0.950)" font-size="16.5" fill="#262626" stroke="#d0d0d0" stroke-width="1.80" paint-order="stroke" stroke-linejoin="round">3</text><text transform="translate(53.28,458.03) scale(0.980,0.950)" font-size="16.5" fill="#262626" stroke="#262626" stroke-width="0.40" paint-order="stroke" stroke-linejoin="round">3</text>
<text transform="translate(53.28,514.73) scale(0.980,0.950)" font-size="16.5" fill="#262626" stroke="#d0d0d0" stroke-width="1.80" paint-order="stroke" stroke-linejoin="round">2</text><text transform="translate(53.28,514.73) scale(0.980,0.950)" font-size="16.5" fill="#262626" stroke="#262626" stroke-width="0.40" paint-order="stroke" stroke-linejoin="round">2</text>
<text transform="translate(53.28,571.73) scale(0.980,0.950)" font-size="16.5" fill="#262626" stroke="#d0d0d0" stroke-width="1.80" paint-order="stroke" stroke-linejoin="round">1</text><text transform="translate(53.28,571.73) scale(0.980,0.950)" font-size="16.5" fill="#262626" stroke="#262626" stroke-width="0.40" paint-order="stroke" stroke-linejoin="round">1</text>
<text transform="translate(53.28,621.02) scale(0.980,0.950)" font-size="16.5" fill="#262626" stroke="#d0d0d0" stroke-width="1.80" paint-order="stroke" stroke-linejoin="round">0</text><text transform="translate(53.28,621.02) scale(0.980,0.950)" font-size="16.5" fill="#262626" stroke="#262626" stroke-width="0.40" paint-order="stroke" stroke-linejoin="round">0</text>
<text transform="translate(82.00,311.79) scale(0.883,1.008)" font-size="17.5" fill="#262626" stroke="#d0d0d0" stroke-width="1.80" paint-order="stroke" stroke-linejoin="round">10</text><text transform="translate(82.00,311.79) scale(0.883,1.008)" font-size="17.5" fill="#262626" stroke="#262626" stroke-width="0.40" paint-order="stroke" stroke-linejoin="round">10</text>
<text transform="translate(98.73,302.39) scale(0.729,0.911)" font-size="10" fill="#262626" stroke="#d0d0d0" stroke-width="1.80" paint-order="stroke" stroke-linejoin="round">5</text><text transform="translate(98.73,302.39) scale(0.729,0.911)" font-size="10" fill="#262626" stroke="#262626" stroke-width="0.40" paint-order="stroke" stroke-linejoin="round">5</text>
<text transform="translate(353.00,311.79) scale(0.883,1.008)" font-size="17.5" fill="#262626" stroke="#d0d0d0" stroke-width="1.80" paint-order="stroke" stroke-linejoin="round">10</text><text transform="translate(353.00,311.79) scale(0.883,1.008)" font-size="17.5" fill="#262626" stroke="#262626" stroke-width="0.40" paint-order="stroke" stroke-linejoin="round">10</text>
<text transform="translate(369.73,302.39) scale(0.729,0.911)" font-size="10" fill="#262626" stroke="#d0d0d0" stroke-width="1.80" paint-order="stroke" stroke-linejoin="round">6</text><text transform="translate(369.73,302.39) scale(0.729,0.911)" font-size="10" fill="#262626" stroke="#262626" stroke-width="0.40" paint-order="stroke" stroke-linejoin="round">6</text>
<text transform="translate(624.50,311.79) scale(0.889,1.008)" font-size="17.5" fill="#262626" stroke="#d0d0d0" stroke-width="1.80" paint-order="stroke" stroke-linejoin="round">10</text><text transform="translate(624.50,311.79) scale(0.889,1.008)" font-size="17.5" fill="#262626" stroke="#262626" stroke-width="0.40" paint-order="stroke" stroke-linejoin="round">10</text>
<text transform="translate(641.19,302.39) scale(0.786,0.911)" font-size="10" fill="#262626" stroke="#d0d0d0" stroke-width="1.80" paint-order="stroke" stroke-linejoin="round">7</text><text transform="translate(641.19,302.39) scale(0.786,0.911)" font-size="10" fill="#262626" stroke="#262626" stroke-width="0.40" paint-order="stroke" stroke-linejoin="round">7</text>
<text transform="translate(82.00,647.89) scale(0.883,1.008)" font-size="17.5" fill="#262626" stroke="#d0d0d0" stroke-width="1.80" paint-order="stroke" stroke-linejoin="round">10</text><text transform="translate(82.00,647.89) scale(0.883,1.008)" font-size="17.5" fill="#262626" stroke="#262626" stroke-width="0.40" paint-order="stroke" stroke-linejoin="round">10</text>
<text transform="translate(98.73,638.49) scale(0.729,0.911)" font-size="10" fill="#262626" stroke="#d0d0d0" stroke-width="1.80" paint-order="stroke" stroke-linejoin="round">5</text><text transform="translate(98.73,638.49) scale(0.729,0.911)" font-size="10" fill="#262626" stroke="#262626" stroke-width="0.40" paint-order="stroke" stroke-linejoin="round">5</text>
<text transform="translate(353.00,647.89) scale(0.883,1.008)" font-size="17.5" fill="#262626" stroke="#d0d0d0" stroke-width="1.80" paint-order="stroke" stroke-linejoin="round">10</text><text transform="translate(353.00,647.89) scale(0.883,1.008)" font-size="17.5" fill="#262626" stroke="#262626" stroke-width="0.40" paint-order="stroke" stroke-linejoin="round">10</text>
<text transform="translate(369.73,638.49) scale(0.729,0.911)" font-size="10" fill="#262626" stroke="#d0d0d0" stroke-width="1.80" paint-order="stroke" stroke-linejoin="round">6</text><text transform="translate(369.73,638.49) scale(0.729,0.911)" font-size="10" fill="#262626" stroke="#262626" stroke-width="0.40" paint-order="stroke" stroke-linejoin="round">6</text>
<text transform="translate(624.50,647.89) scale(0.889,1.008)" font-size="17.5" fill="#262626" stroke="#d0d0d0" stroke-width="1.80" paint-order="stroke" stroke-linejoin="round">10</text><text transform="translate(624.50,647.89) scale(0.889,1.008)" font-size="17.5" fill="#262626" stroke="#262626" stroke-width="0.40" paint-order="stroke" stroke-linejoin="round">10</text>
<text transform="translate(641.19,638.49) scale(0.786,0.911)" font-size="10" fill="#262626" stroke="#d0d0d0" stroke-width="1.80" paint-order="stroke" stroke-linejoin="round">7</text><text transform="translate(641.19,638.49) scale(0.786,0.911)" font-size="10" fill="#262626" stroke="#262626" stroke-width="0.40" paint-order="stroke" stroke-linejoin="round">7</text>
<text transform="translate(102.25,41.21) scale(0.949,0.901)" font-size="14.5" fill="#262626" stroke="#d0d0d0" stroke-width="1.80" paint-order="stroke" stroke-linejoin="round">Input</text><text transform="translate(102.25,41.21) scale(0.949,0.901)" font-size="14.5" fill="#262626" stroke="#262626" stroke-width="0.40" paint-order="stroke" stroke-linejoin="round">Input</text>
<text transform="translate(101.30,75.71) scale(0.964,0.964)" font-size="14.5" fill="#ff2020" stroke="rgba(255,255,255,0.8)" stroke-width="2.10" paint-order="stroke" stroke-linejoin="round">SITES</text><text transform="translate(101.30,75.71) scale(0.964,0.964)" font-size="14.5" fill="#ff2020" stroke="#ff2020" stroke-width="0.40" paint-order="stroke" stroke-linejoin="round">SITES</text>
<text transform="translate(102.28,110.39) scale(0.975,0.926)" font-size="14.5" fill="#55a855" stroke="rgba(255,255,255,0.8)" stroke-width="2.10" paint-order="stroke" stroke-linejoin="round">Cheung et al, sigma x1.0</text><text transform="translate(102.28,110.39) scale(0.975,0.926)" font-size="14.5" fill="#55a855" stroke="#55a855" stroke-width="0.40" paint-order="stroke" stroke-linejoin="round">Cheung et al, sigma x1.0</text>
<text transform="translate(102.28,145.49) scale(0.975,0.926)" font-size="14.5" fill="#55a855" stroke="rgba(255,255,255,0.8)" stroke-width="2.10" paint-order="stroke" stroke-linejoin="round">Cheung et al, sigma x0.5</text><text transform="translate(102.28,145.49) scale(0.975,0.926)" font-size="14.5" fill="#55a855" stroke="#55a855" stroke-width="0.40" paint-order="stroke" stroke-linejoin="round">Cheung et al, sigma x0.5</text>
<text transform="translate(102.94,180.85) scale(0.941,0.941)" font-size="14.5" fill="#9a50f0" stroke="rgba(255,255,255,0.8)" stroke-width="2.10" paint-order="stroke" stroke-linejoin="round">H &amp; K</text><text transform="translate(102.94,180.85) scale(0.941,0.941)" font-size="14.5" fill="#9a50f0" stroke="#9a50f0" stroke-width="0.40" paint-order="stroke" stroke-linejoin="round">H &amp; K</text>
<text transform="translate(102.25,376.91) scale(0.949,0.901)" font-size="14.5" fill="#262626" stroke="#d0d0d0" stroke-width="1.80" paint-order="stroke" stroke-linejoin="round">Input</text><text transform="translate(102.25,376.91) scale(0.949,0.901)" font-size="14.5" fill="#262626" stroke="#262626" stroke-width="0.40" paint-order="stroke" stroke-linejoin="round">Input</text>
<text transform="translate(101.30,411.41) scale(0.964,0.964)" font-size="14.5" fill="#ff2020" stroke="rgba(255,255,255,0.8)" stroke-width="2.10" paint-order="stroke" stroke-linejoin="round">SITES</text><text transform="translate(101.30,411.41) scale(0.964,0.964)" font-size="14.5" fill="#ff2020" stroke="#ff2020" stroke-width="0.40" paint-order="stroke" stroke-linejoin="round">SITES</text>
<text transform="translate(102.28,446.09) scale(0.975,0.926)" font-size="14.5" fill="#55a855" stroke="rgba(255,255,255,0.8)" stroke-width="2.10" paint-order="stroke" stroke-linejoin="round">Cheung et al, sigma x1.0</text><text transform="translate(102.28,446.09) scale(0.975,0.926)" font-size="14.5" fill="#55a855" stroke="#55a855" stroke-width="0.40" paint-order="stroke" stroke-linejoin="round">Cheung et al, sigma x1.0</text>
<text transform="translate(102.28,481.19) scale(0.975,0.926)" font-size="14.5" fill="#55a855" stroke="rgba(255,255,255,0.8)" stroke-width="2.10" paint-order="stroke" stroke-linejoin="round">Cheung et al, sigma x0.5</text><text transform="translate(102.28,481.19) scale(0.975,0.926)" font-size="14.5" fill="#55a855" stroke="#55a855" stroke-width="0.40" paint-order="stroke" stroke-linejoin="round">Cheung et al, sigma x0.5</text>
<text transform="translate(102.94,516.55) scale(0.941,0.941)" font-size="14.5" fill="#9a50f0" stroke="rgba(255,255,255,0.8)" stroke-width="2.10" paint-order="stroke" stroke-linejoin="round">H &amp; K</text><text transform="translate(102.94,516.55) scale(0.941,0.941)" font-size="14.5" fill="#9a50f0" stroke="#9a50f0" stroke-width="0.40" paint-order="stroke" stroke-linejoin="round">H &amp; K</text>
<text transform="translate(25.90,206.95) scale(1.000,0.948) rotate(-90)" font-size="22.5" fill="#262626" stroke="#d0d0d0" stroke-width="1.80" paint-order="stroke" stroke-linejoin="round">EM (10<tspan font-size="10" dy="-11.5">28</tspan><tspan dy="11.5"> cm</tspan><tspan font-size="10" dy="-11.5">-5</tspan><tspan dy="11.5">)</tspan></text><text transform="translate(25.90,206.95) scale(1.000,0.948) rotate(-90)" font-size="22.5" fill="#262626" stroke="#262626" stroke-width="0.40" paint-order="stroke" stroke-linejoin="round">EM (10<tspan font-size="10" dy="-11.5">28</tspan><tspan dy="11.5"> cm</tspan><tspan font-size="10" dy="-11.5">-5</tspan><tspan dy="11.5">)</tspan></text>
<text transform="translate(37.30,546.13) scale(1.000,0.969) rotate(-90)" font-size="22.5" fill="#262626" stroke="#d0d0d0" stroke-width="1.80" paint-order="stroke" stroke-linejoin="round">EM (10<tspan font-size="10" dy="-11.5">28</tspan><tspan dy="11.5"> cm</tspan><tspan font-size="10" dy="-11.5">-5</tspan><tspan dy="11.5">)</tspan></text><text transform="translate(37.30,546.13) scale(1.000,0.969) rotate(-90)" font-size="22.5" fill="#262626" stroke="#262626" stroke-width="0.40" paint-order="stroke" stroke-linejoin="round">EM (10<tspan font-size="10" dy="-11.5">28</tspan><tspan dy="11.5"> cm</tspan><tspan font-size="10" dy="-11.5">-5</tspan><tspan dy="11.5">)</tspan></text>
<text transform="translate(298.42,673.27) scale(1.023,1.023)" font-size="21" fill="#262626" stroke="#d0d0d0" stroke-width="1.80" paint-order="stroke" stroke-linejoin="round">Temperature (K)</text><text transform="translate(298.42,673.27) scale(1.023,1.023)" font-size="21" fill="#262626" stroke="#262626" stroke-width="0.40" paint-order="stroke" stroke-linejoin="round">Temperature (K)</text></g>
</svg></body></html>
